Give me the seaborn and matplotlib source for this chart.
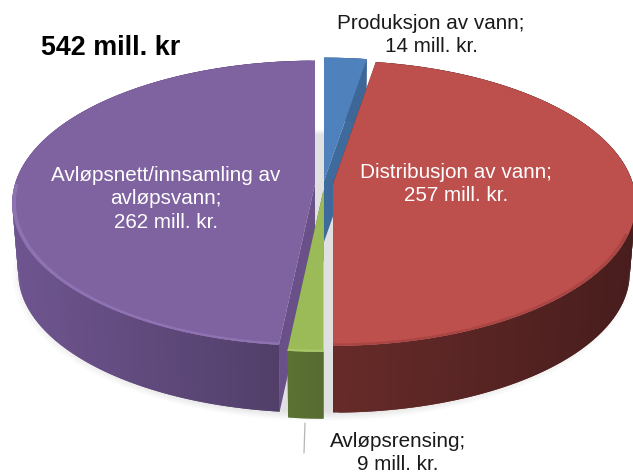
import numpy as np
import matplotlib
matplotlib.use("Agg")
import matplotlib.pyplot as plt
from matplotlib.patches import Wedge
from matplotlib.transforms import Transform
import matplotlib.colors as mc
import seaborn as sns

sns.set_theme(style="white")
plt.rcParams['font.family'] = ['Liberation Sans', 'DejaVu Sans']

categories = ["Produksjon av vann", "Distribusjon av vann", "Avløpsrensing", "Avløpsnett/innsamling av avløpsvann"]
values = [14, 257, 9, 262]
total_label = "542 mill. kr"
top_colors = ["#4f81bd", "#bd4f4d", "#9bbb59", "#7f62a0"]
radial_colors = ["#3e6a9c", "#5e2624", "#5a7032", "#6a5088"]
side_left = ["#3c6797", "#662b29", "#5b7133", "#6f5590"]
side_right = ["#3c6797", "#481d1d", "#566b30", "#4c3c63"]
bevel_colors = ["#4f81bd", "#a94543", "#a8c668", "#8f72b2"]
apex_x = [324, 333, 323.5, 315]
apex_y = [181, 184, 190, 184]
depth_z = [0.87, 1.0, 1.0, 1.0]
draw_order = [3, 0, 2, 1]

RX, RY, K, DZ, SHRINK = 300.0, 140.0, 0.135, 70.0, 0.02


class Persp(Transform):
    input_dims = 2
    output_dims = 2
    has_inverse = False
    is_separable = False

    def __init__(self, ax0, ay0, z=0.0):
        super().__init__()
        self.ax0, self.ay0, self.z = ax0, ay0, z

    def transform_non_affine(self, values):
        values = np.asarray(values, dtype=float)
        u, v = values[:, 0], values[:, 1]
        w = 1 + K * v
        s = 1 - SHRINK * self.z
        return np.column_stack([self.ax0 + s * RX * u / w,
                                self.ay0 + DZ * self.z - s * RY * v / w])


fig = plt.figure(figsize=(6.33, 4.75), dpi=100, facecolor="white")
ax = fig.add_axes([0, 0, 1, 1])

# soft drop shadow under the whole pie
for r, a in [(1.04, 0.15), (1.03, 0.2), (1.02, 0.25), (1.01, 0.35), (0.995, 0.7)]:
    sw, _ = ax.pie([sum(values)], colors=["#dedede"], radius=r, wedgeprops={"alpha": a, "linewidth": 0})
    sw[0].set_transform(Persp(322, 186, 0.98) + ax.transData)
    sw[0].set_zorder(1)

wedges, _ = ax.pie(values, startangle=90, counterclock=False, colors=top_colors,
                   wedgeprops={"linewidth": 0})

for rank, i in enumerate(draw_order):
    w = wedges[i]
    base = 10 + rank * 10
    P0 = Persp(apex_x[i], apex_y[i], 0.0)
    P1 = Persp(apex_x[i], apex_y[i], depth_z[i])
    t1, t2 = w.theta1, w.theta2
    # radial faces
    for th in (t1, t2):
        pt = np.array([[0, 0], [np.cos(np.radians(th)), np.sin(np.radians(th))]])
        a, b = P0.transform(pt), P1.transform(pt)
        quad = np.vstack([a, b[::-1]])
        ax.fill(quad[:, 0], quad[:, 1], color=radial_colors[i], lw=0, zorder=base)
    # outer rim strips (overlapping, so no seams show)
    lc, rc = np.array(mc.to_rgb(side_left[i])), np.array(mc.to_rgb(side_right[i]))
    edges = np.linspace(t1, t2, max(3, int((t2 - t1)) + 1))
    unit = np.column_stack([np.cos(np.radians(edges)), np.sin(np.radians(edges))])
    x_top, x_bot = P0.transform(unit), P1.transform(unit)
    front = x_top[:, 0]
    lo, hi = front.min(), front.max()
    for j in range(len(edges) - 1):
        k = min(j + 3, len(edges))
        quad = np.vstack([x_top[j:k], x_bot[j:k][::-1]])
        f = (front[j] - lo) / max(hi - lo, 1)
        ax.fill(quad[:, 0], quad[:, 1], color=lc + (rc - lc) * f, lw=0, zorder=base + 1)
    # top face
    w.set_transform(P0 + ax.transData)
    w.set_zorder(base + 2)
    # rim bevel on the front part only
    if i == 0:
        continue
    b1, b2 = (max(t1, 180.0), t2) if i == 3 else (t1, t2)
    if i == 1:
        b1, b2 = max(t1, -90.0), min(t2, -20.0)
    ring = Wedge((0, 0), 1.0, b1, b2, width=0.012, facecolor=bevel_colors[i], linewidth=0, zorder=base + 3)
    ax.add_patch(ring)
    ring.set_transform(P0 + ax.transData)

# leader line for the small slice
ax.plot([305, 304], [423, 453], color="#b5b5b5", lw=0.9, zorder=60)

ax.set_aspect("auto")
ax.set_xlim(0, 633)
ax.set_ylim(475, 0)
ax.set_axis_off()

fs = 14.9
ls = 1.27
ax.text(41, 48, total_label, fontsize=19.4, fontweight="bold", color="black", va="center", ha="left", zorder=70)
ax.text(431, 35, f"{categories[0]};\n{values[0]} mill. kr.", fontsize=fs, color="#1a1a1a",
        ha="center", va="center", linespacing=ls, zorder=70)
ax.text(456, 184, f"{categories[1]};\n{values[1]} mill. kr.", fontsize=fs, color="white",
        ha="center", va="center", linespacing=ls, zorder=70)
ax.text(398, 474.5, f"{categories[2]};\n{values[2]} mill. kr.", fontsize=fs, color="#1a1a1a",
        ha="center", va="bottom", linespacing=ls, zorder=70)
ax.text(166, 199, "Avløpsnett/innsamling av\navløpsvann;\n" + f"{values[3]} mill. kr.", fontsize=fs,
        color="white", ha="center", va="center", linespacing=ls, zorder=70)

fig.savefig("out.png", dpi=100, facecolor="white")
